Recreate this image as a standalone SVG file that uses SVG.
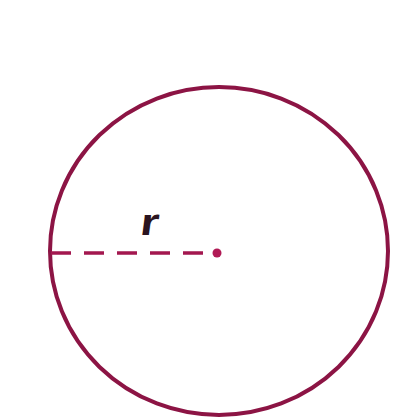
<svg xmlns="http://www.w3.org/2000/svg" width="399" height="419" viewBox="0 0 399 419">
<style>
.c{fill:none;stroke:#8c1444;stroke-width:4}
.r{stroke:#a3174f;stroke-width:3.5;stroke-dasharray:20 13}
.t{font-family:"Liberation Sans",Arial,sans-serif;font-weight:bold;font-size:38px;fill:#2a1420}
</style>
<rect width="399" height="419" fill="#ffffff"/>
<g id="circle">
<ellipse class="c" cx="219" cy="251" rx="169" ry="164"/>
</g>
<g id="connectors">
<line class="r" x1="51" y1="253" x2="215" y2="253"/>
<circle cx="217" cy="253" r="4.5" fill="#b01a55"/>
</g>
<g id="label">
<text class="t" x="139" y="235" transform="translate(139 235) scale(1.25 1) skewX(-6) translate(-139 -235)">r</text>
</g>
</svg>
